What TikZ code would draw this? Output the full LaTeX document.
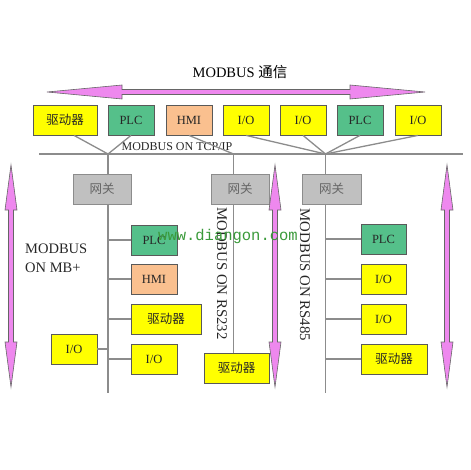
\documentclass[tikz,border=0pt]{standalone}
\usepackage{fontspec}
\setmainfont{Liberation Serif}
\newfontfamily\cjk{Noto Sans CJK SC}
\newfontfamily\wmfont{Liberation Mono}
\definecolor{ylw}{HTML}{FFFF00}
\definecolor{grn}{HTML}{55C08A}
\definecolor{peach}{HTML}{FAC08F}
\definecolor{gwgray}{HTML}{C0C0C0}
\definecolor{linegray}{HTML}{8C8C8C}
\definecolor{arrpink}{HTML}{EE88EE}
\definecolor{wmgreen}{HTML}{3A9A3A}
\begin{document}
\begin{tikzpicture}[x=1pt,y=-1pt,
  bx/.style={draw=black!65, line width=0.8pt, minimum height=30pt, minimum width=46pt, inner sep=0pt,
    text=black!85, font=\fontsize{12.5}{14}\selectfont},
  yb/.style={bx, fill=ylw},
  gb/.style={bx, fill=grn},
  hb/.style={bx, fill=peach},
  gw/.style={bx, fill=gwgray, draw=black!45, text=black!60, minimum width=58pt, font=\fontsize{12.5}{14}\selectfont\cjk},
  cn/.style={font=\fontsize{12.5}{14}\selectfont\cjk},
  bus/.style={draw=linegray, line width=1.3pt},
  bigarrow/.style={fill=arrpink, draw=black!60, line width=0.6pt, line join=miter}
]
\useasboundingbox (0,0) rectangle (470,470);

% title
\node (title) at (240,72) {\fontsize{14.5}{16}\selectfont MODBUS {\cjk 通信}};

% top double arrow
\filldraw[bigarrow] (47,92) -- (122,85) -- (122,89.5) -- (350,89.5) -- (350,85) -- (425,92)
  -- (350,99) -- (350,94.5) -- (122,94.5) -- (122,99) -- cycle;

% top boxes
\node[yb, cn, minimum width=64pt] (d1) at (65,120) {驱动器};
\node[gb] (p1) at (131,120) {PLC};
\node[hb] (h1) at (189,120) {HMI};
\node[yb] (i1) at (246,120) {I/O};
\node[yb] (i2) at (303,120) {I/O};
\node[gb] (p2) at (360,120) {PLC};
\node[yb] (i3) at (418,120) {I/O};

% TCP/IP bus
\coordinate (busL) at (39,154);
\coordinate (busR) at (463,154);
\coordinate (j1) at (108,154);
\coordinate (j2) at (233.5,154);
\coordinate (j3) at (325.5,154);
\draw[bus] (busL) -- (busR);
\node[font=\fontsize{12}{14}\selectfont, text=black!85] (tcp) at (177,147) {MODBUS ON TCP/IP};

\draw[bus] ([xshift=9pt]d1.south) -- (j1);
\draw[bus] (p1.south) -- (j1);
\draw[bus] (h1.south) -- (j2);
\draw[bus] (i1.south) -- (j3);
\draw[bus] (i2.south) -- (j3);
\draw[bus] (p2.south) -- (j3);
\draw[bus] (i3.south) -- (j3);

% gateways
\node[gw] (g1) at (102,189) {网关};
\node[gw] (g2) at (240,189) {网关};
\node[gw, minimum width=59pt] (g3) at (331.5,189) {网关};

\coordinate (b1) at (108,393);
\coordinate (b3) at (325.5,393);
\draw[bus] (j1) -- (g1.north -| j1);
\draw[bus] (j2) -- (g2.north -| j2);
\draw[bus] (j3) -- (g3.north -| j3);

% left panel
\node[gb] (lp) at (154,240) {PLC};
\node[hb] (lh) at (154,279) {HMI};
\node[yb, cn, minimum width=70pt] (ld) at (166,319) {驱动器};
\node[yb] (li) at (74,349) {I/O};
\node[yb] (lo) at (154,359) {I/O};
\draw[bus] (g1.south -| j1) -- (b1);
\draw[bus] (lp.west) -- (lp.west -| j1);
\draw[bus] (lh.west) -- (lh.west -| j1);
\draw[bus] (ld.west) -- (ld.west -| j1);
\draw[bus] (li.east) -- (li.east -| j1);
\draw[bus] (lo.west) -- (lo.west -| j1);

% middle panel
\node[yb, cn, minimum width=65pt] (md) at (236.5,368) {驱动器};
\draw[bus] (g2.south -| j2) -- (md.north -| j2);

% right panel
\node[gb, minimum width=45pt] (rp) at (383.5,239) {PLC};
\node[yb, minimum width=45pt] (ri1) at (383.5,279) {I/O};
\node[yb, minimum width=45pt] (ri2) at (383.5,319) {I/O};
\node[yb, cn, minimum width=66pt] (rd) at (394,359) {驱动器};
\draw[bus] (g3.south -| j3) -- (b3);
\draw[bus] (rp.west) -- (rp.west -| j3);
\draw[bus] (ri1.west) -- (ri1.west -| j3);
\draw[bus] (ri2.west) -- (ri2.west -| j3);
\draw[bus] (rd.west) -- (rd.west -| j3);

% vertical double arrows
\foreach \ax in {11,275,447}{
  \filldraw[bigarrow] (\ax,165) -- (\ax+6,210) -- (\ax+2.5,210) -- (\ax+2.5,342) -- (\ax+6,342) -- (\ax,387)
    -- (\ax-6,342) -- (\ax-2.5,342) -- (\ax-2.5,210) -- (\ax-6,210) -- cycle;
}

% labels
\node[anchor=west, align=left, font=\fontsize{14.5}{19}\selectfont, text=black!85, inner sep=0pt] (mb) at (25,258.5) {MODBUS\\ON MB+};
\node[rotate=-90, font=\fontsize{14.8}{16}\selectfont, text=black!85] (rs232) at (222,273.5) {MODBUS ON RS232};
\node[rotate=-90, font=\fontsize{14.8}{16}\selectfont, text=black!85] (rs485) at (305,275) {MODBUS ON RS485};

% watermark
\node[anchor=west, inner sep=0pt, text=wmgreen, font=\fontsize{15.5}{17}\selectfont\wmfont] (wm) at (158,236) {www.diangon.com};
\end{tikzpicture}
\end{document}
